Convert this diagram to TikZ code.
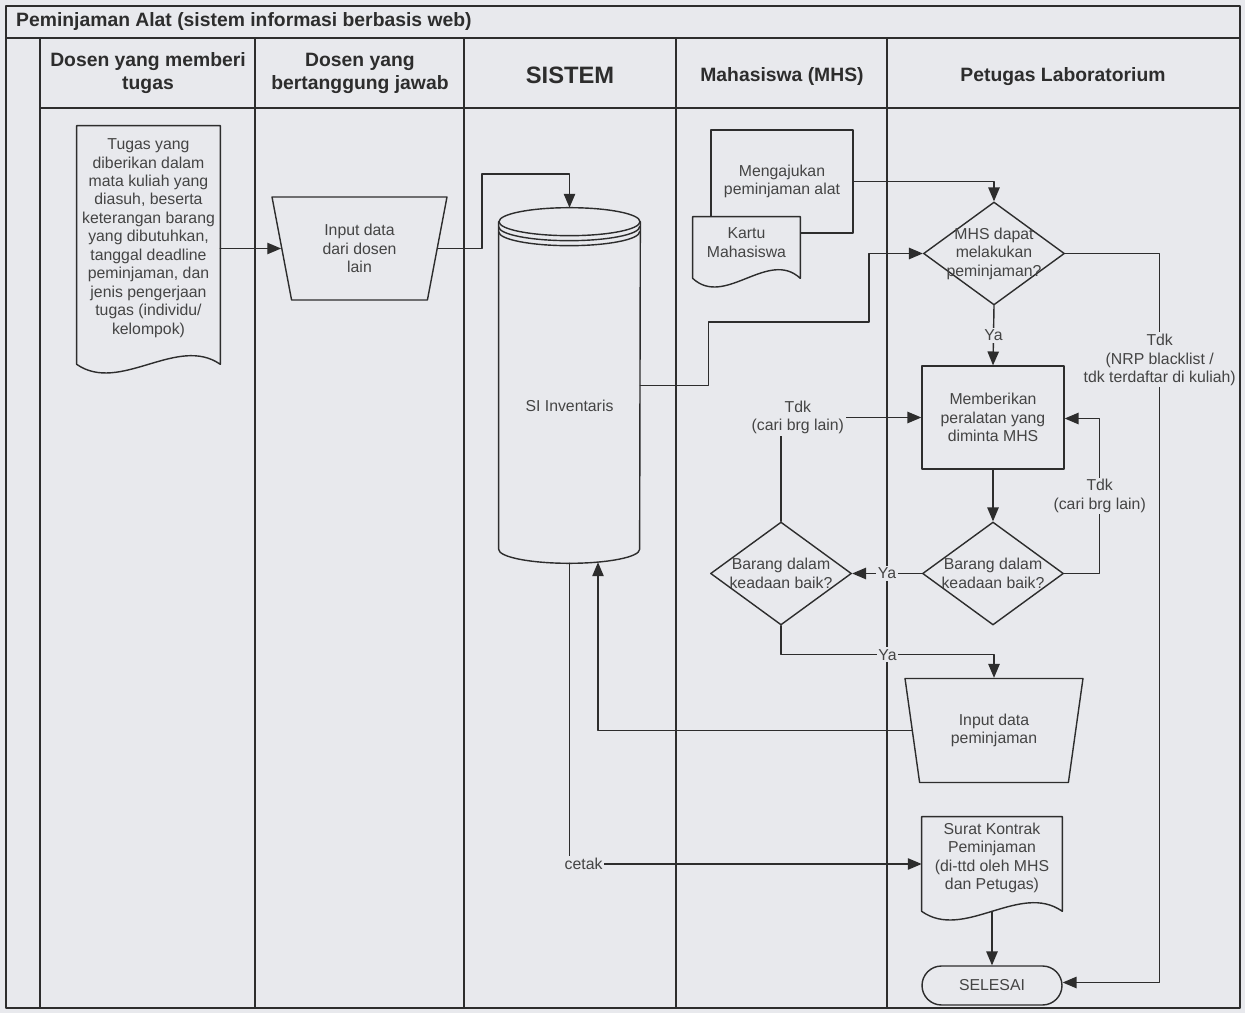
\documentclass[tikz,border=0pt]{standalone}
\usepackage{fontspec}
\setmainfont{Liberation Sans}
\usepackage{tikz}
\usetikzlibrary{shapes,arrows,calc}
\definecolor{paper}{RGB}{232,233,237}
\definecolor{ink}{RGB}{45,45,45}
\definecolor{txtgray}{RGB}{68,68,68}
\tikzset{
  >=triangle 45,
  frame/.style={draw=ink, line width=1.1pt},
  flow/.style={draw=ink, line width=0.8pt},
  txt/.style={align=center, text=txtgray, font=\fontsize{9}{10.5}\selectfont},
  hdr/.style={align=center, text=ink, font=\bfseries\fontsize{11}{13}\selectfont},
  proc/.style={txt, rectangle, draw=ink, fill=paper, line width=0.8pt, minimum width=2.84cm, minimum height=2.06cm},
  decision/.style={diamond, draw=ink, fill=paper, line width=0.8pt, minimum width=2.82cm, minimum height=2.06cm, inner sep=0pt},
  io/.style={txt, trapezium, trapezium angle=72, trapezium stretches body, shape border rotate=180, draw=ink, fill=paper, line width=0.8pt, minimum height=2.06cm},
  term/.style={txt, rectangle, rounded corners=0.39cm, draw=ink, fill=paper, line width=0.8pt, minimum width=2.8cm, minimum height=0.78cm},
  docframe/.style={rectangle, inner sep=0pt},
  lbl/.style={txt, fill=paper, inner sep=1pt},
}
% document symbol: name, centre, width, height, text shift, text
\newcommand{\docnode}[6]{%
  \node[docframe, minimum width=#3, minimum height=#4] (#1) at (#2) {};
  \filldraw[draw=ink, fill=paper, line width=0.8pt] (#1.south west) -- (#1.north west) -- (#1.north east) -- (#1.south east)
    .. controls ($(#1.south east)!0.3!(#1.south west)+(0,-30)$) and ($(#1.south east)!0.7!(#1.south west)+(0,30)$) .. (#1.south west) -- cycle;
  \node[txt] (#1-text) at ($(#1.center)+(0,#5)$) {#6};}

\begin{document}
\begin{tikzpicture}[x=0.02cm,y=-0.02cm,line cap=round,line join=round]
\useasboundingbox[fill=paper] (0,0) rectangle (1245,1013);

% swimlane frame
\draw[frame] (6,6) rectangle (1240,1008);
\draw[frame] (6,38) -- (1240,38);
\draw[frame] (40,108) -- (1240,108);
\foreach \lx in {40,255,464,676,887}
  \draw[frame] (\lx,38) -- (\lx,1008);
\node[hdr, anchor=west] (title) at (10,22) {Peminjaman Alat (sistem informasi berbasis web)};
\node[hdr] (hdosen1) at (148,73) {Dosen yang memberi\\tugas};
\node[hdr] (hdosen2) at (360,73) {Dosen yang\\bertanggung jawab};
\node[hdr, font=\bfseries\fontsize{13.5}{15}\selectfont] (hsistem) at (570,75) {SISTEM};
\node[hdr] (hmhs) at (782,77) {Mahasiswa (MHS)};
\node[hdr] (hlab) at (1063,77) {Petugas Laboratorium};

% lane contents
\docnode{tugas}{148.5,245}{2.86cm}{4.76cm}{-7}{Tugas yang\\diberikan dalam\\mata kuliah yang\\diasuh, beserta\\keterangan barang\\yang dibutuhkan,\\tanggal deadline\\peminjaman, dan\\jenis pengerjaan\\tugas (individu/\\kelompok)}
\node[io, minimum width=3.5cm] (inpdosen) at (359.5,248.5) {Input data\\dari dosen\\lain};

\node[docframe, minimum width=2.82cm, minimum height=7.1cm] (inv) at (569.5,385.5) {};
\draw[flow] ($(inv.north west)+(0,14)$) -- ($(inv.south west)+(0,-14)$)
  arc[start angle=180, end angle=360, x radius=1.41cm, y radius=0.28cm] -- ($(inv.north east)+(0,14)$);
\draw[flow] ($(inv.north)+(0,14)$) ellipse [x radius=1.41cm, y radius=0.28cm];
\foreach \dy in {5,10}
  \draw[flow] ($(inv.north west)+(0,14+\dy)$) arc[start angle=180, end angle=360, x radius=1.41cm, y radius=0.28cm];
\node[txt] (inv-text) at ($(inv.center)+(0,20)$) {SI Inventaris};

\node[proc] (ajukan) at (782,181.5) {Mengajukan\\peminjaman alat};
\docnode{kartu}{746.5,247.5}{2.14cm}{1.22cm}{-5}{Kartu\\Mahasiswa}

\node[decision, label={[txt]center:MHS dapat\\melakukan\\peminjaman?}] (mhs) at (994,253.5) {};
\node[proc] (beri) at (993,417.5) {Memberikan\\peralatan yang\\diminta MHS};
\node[decision, label={[txt]center:Barang dalam\\keadaan baik?}] (brg2) at (993,573.5) {};
\node[decision, label={[txt]center:Barang dalam\\keadaan baik?}] (brg1) at (781,573.5) {};
\node[io, minimum width=3.56cm, minimum height=2.08cm] (inpinjam) at (994,730.5) {Input data\\peminjaman};
\docnode{surat}{992,864}{2.8cm}{1.88cm}{-6}{Surat Kontrak\\Peminjaman\\(di-ttd oleh MHS\\dan Petugas)}
\node[term] (selesai) at (992,985.5) {SELESAI};

% connectors
\draw[flow,->] (tugas.east |- inpdosen.west) -- (inpdosen.west);
\draw[flow,->] (inpdosen.east) -| (482,174) -| (inv.north);
\draw[flow,->] (inv.east) -- ++(68,0) |- (869,322) |- (mhs.west);
\draw[flow,->] (ajukan.east) -| (mhs.north);
\draw[flow,->] (mhs.south) -- node[lbl]{Ya} (beri.north);
\draw[flow,->] (mhs.east) -| node[lbl, pos=0.573]{Tdk\\(NRP blacklist /\\tdk terdaftar di kuliah)} ($(selesai.east)+(97,-3)$) -- ($(selesai.east)+(0,-3)$);
\draw[flow,->] (beri.south) -- (brg2.north);
\draw[flow,->] (brg2.east) -| node[lbl, pos=0.75]{Tdk\\(cari brg lain)} ($(beri.east)+(35,1)$) -- ($(beri.east)+(0,1)$);
\draw[flow,->] (brg2.west) -- node[lbl]{Ya} (brg1.east);
\draw[flow,->] (brg1.north) |- node[lbl, pos=0.56]{Tdk\\(cari brg lain)} (beri.west);
\draw[flow,->] (brg1.south) -- ++(0,29) -| node[lbl, pos=0.25]{Ya} (inpinjam.north);
\draw[flow,->] (inpinjam.west) -| ($(inv.south)+(28.5,-1)$);
\draw[flow,->] (inv.south) |- node[lbl, pos=0.52]{cetak} (surat.west);
\draw[flow,->] (surat.south) -- (selesai.north);
\end{tikzpicture}
\end{document}
